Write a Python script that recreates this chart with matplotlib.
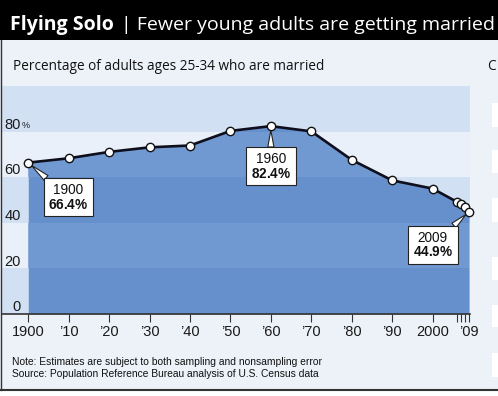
import matplotlib
matplotlib.use("Agg")
import matplotlib.pyplot as plt
from matplotlib.patches import Rectangle
from matplotlib.lines import Line2D

# data
years = [1900, 1910, 1920, 1930, 1940, 1950, 1960, 1970, 1980, 1990, 2000,
         2006, 2007, 2008, 2009]
married_pct = [66.4, 68.3, 71.1, 73.1, 73.9, 80.3, 82.4, 80.1, 67.6, 58.6,
               55.0, 49.2, 48.4, 46.9, 44.9]
tick_years = [1900, 1910, 1920, 1930, 1940, 1950, 1960, 1970, 1980, 1990,
              2000, 2006, 2007, 2008, 2009]
tick_labels = ["1900", "\u201910", "\u201920", "\u201930", "\u201940",
               "\u201950", "\u201960", "\u201970", "\u201980", "\u201990",
               "2000", "", "", "", "\u201909"]
y_ticks = [0, 20, 40, 60, 80]
callout_years = [1900, 1960, 2009]
callout_offsets = [(29, -25), (0, -29), (-26, -24)]

W, H = 498, 396
plt.rcParams["font.family"] = ["Liberation Sans", "DejaVu Sans"]
plt.rcParams["mathtext.fontset"] = "custom"
plt.rcParams["mathtext.rm"] = "Liberation Sans"
plt.rcParams["mathtext.bf"] = "Liberation Sans:bold"
HEAD = ["Open Sans", "Liberation Sans", "DejaVu Sans"]

BG = "#EDF2F9"
BAND_A = "#D1E0F2"
BAND_B = "#E9F0F9"
FILL_A = "#6690CB"
FILL_B = "#7199D1"


def fx(px):
    return px / W


def fy(py):
    return 1 - py / H


fig = plt.figure(figsize=(W / 100, H / 100), dpi=100)
fig.patch.set_facecolor(BG)

# title bar
fig.add_artist(Rectangle((0, fy(40)), 1, 40 / H, transform=fig.transFigure,
                         color="black", lw=0))
fig.text(fx(10), fy(25), "Flying Solo", color="white", fontsize=14,
         weight="bold", va="center", family=HEAD)
fig.text(fx(121), fy(25), "| Fewer young adults are getting married",
         color="white", fontsize=14, va="center", family=HEAD)
fig.text(fx(13), fy(66), "Percentage of adults ages 25-34 who are married",
         fontsize=9.8, va="center", color="#111111", family=HEAD)

# bits of the next panel on the right
fig.text(fx(487), fy(66), "C", fontsize=9.8, va="center", color="#111111", family=HEAD)
for top, bot in [(103, 127), (150, 173), (198, 222), (257, 280), (305, 327), (353, 377)]:
    fig.add_artist(Rectangle((fx(492), fy(bot)), fx(8), (bot - top) / H,
                             transform=fig.transFigure, color="white", lw=0))

# main axes
left_px, right_px, top_px, bot_px = 2, 470, 86, 314
ax = fig.add_axes([fx(left_px), fy(bot_px), fx(right_px - left_px),
                   (bot_px - top_px) / H])
ax.set_facecolor(BG)
ax.set_xlim(1893.5, 2009.25)
ax.set_ylim(0, 100)

for i, lo in enumerate(range(0, 100, 20)):
    ax.axhspan(lo, lo + 20, color=BAND_A if i % 2 == 0 else BAND_B, lw=0, zorder=0)

poly = ax.fill_between(years, married_pct, 0, color=FILL_A, lw=0, zorder=1)
clip = poly.get_paths()[0]
for lo in (20, 60):
    stripe = ax.axhspan(lo, lo + 20, color=FILL_B, lw=0, zorder=1.5)
    stripe.set_clip_path(clip, ax.transData)

ax.plot(years, married_pct, color="#0E0E1C", lw=1.9, marker="o", ms=6,
        mfc="white", mec="#111111", mew=1, zorder=5, clip_on=False)

for yr, (dx, dy) in zip(callout_years, callout_offsets):
    val = married_pct[years.index(yr)]
    ax.annotate(f"{yr}\n$\\mathbf{{{val}\\%}}$", xy=(yr, val), xytext=(dx, dy),
                textcoords="offset points", ha="center", va="center",
                fontsize=9.8, linespacing=1.05, color="#111111",
                bbox=dict(boxstyle="square,pad=0.35", fc="white", ec="#222222", lw=0.8),
                arrowprops=dict(arrowstyle="wedge,tail_width=0.45,shrink_factor=0.5",
                                fc="white", ec="#222222", lw=0.8,
                                shrinkA=0, shrinkB=3),
                zorder=4)

for v in y_ticks:
    ax.text(0.04, v + 1.2, str(v), transform=ax.get_yaxis_transform(),
            ha="right", va="baseline", fontsize=10.5, color="#1A1A1A", zorder=3)
ax.text(0.043, 81.6, "%", transform=ax.get_yaxis_transform(), ha="left",
        va="baseline", fontsize=6.5, color="#1A1A1A", zorder=3)

for s in ("left", "right", "top"):
    ax.spines[s].set_visible(False)
ax.spines["bottom"].set_color("#333333")
ax.spines["bottom"].set_linewidth(1.2)
ax.set_yticks([])
ax.set_xticks(tick_years)
ax.set_xticklabels(tick_labels)
ax.tick_params(axis="x", direction="out", length=6, width=0.8, color="#333333",
               pad=2, labelsize=10.5, labelcolor="#1A1A1A")

# notes
fig.text(fx(12), fy(362), "Note: Estimates are subject to both sampling and nonsampling error",
         fontsize=7.4, va="center", color="#111111")
fig.text(fx(12), fy(374), "Source: Population Reference Bureau analysis of U.S. Census data",
         fontsize=7.4, va="center", color="#111111")

# frame lines and strip below
fig.add_artist(Rectangle((0, 0), 1, 5 / H, transform=fig.transFigure,
                         color="white", lw=0))
fig.add_artist(Line2D([0, 1], [fy(390), fy(390)], transform=fig.transFigure,
                      color="#333333", lw=1.5))
fig.add_artist(Line2D([fx(0.5), fx(0.5)], [fy(390), fy(40)],
                      transform=fig.transFigure, color="#333333", lw=1))

fig.savefig("out.png", dpi=100, facecolor=fig.get_facecolor())
